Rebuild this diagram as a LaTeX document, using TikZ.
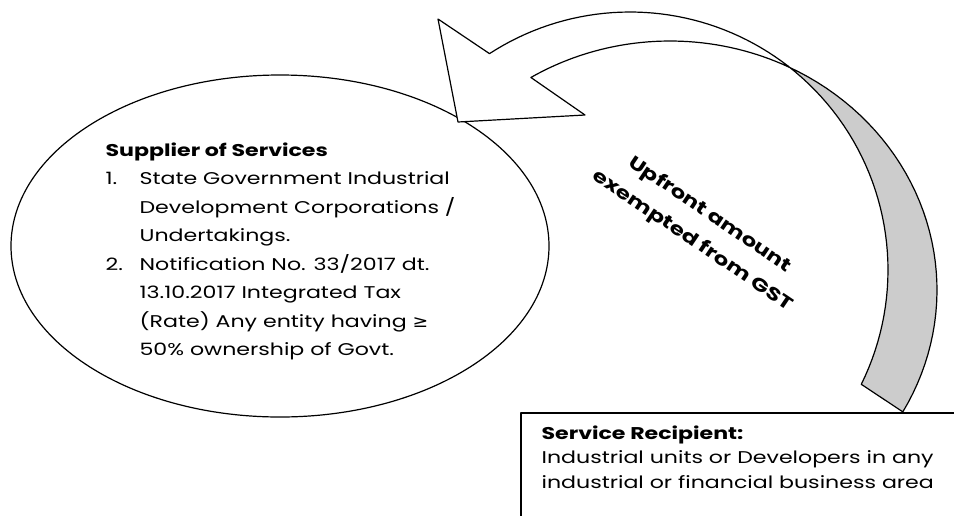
\documentclass[tikz,border=0pt]{standalone}
\usepackage{fontspec}
\setmainfont{Poppins}[FakeStretch=1.3]
\newfontfamily\symfont{DejaVu Sans}[FakeStretch=1.1]
\usetikzlibrary{shapes.geometric}

\tikzset{
  bodytext/.style={anchor=north west, align=left, inner sep=0pt},
  backface/.style={fill=gray!40},
  frontface/.style={fill=white}
}

\begin{document}
\begin{tikzpicture}[x=1pt, y=-1pt, line width=1.2pt, line join=round, variable=\t, samples=40]
    \useasboundingbox (0,0) rectangle (954,515);

    % Elip nha cung cap
    \node[draw, ellipse, minimum width=538, minimum height=342, inner sep=0pt] (supplier) at (280,246) {};
    \begin{scope}
        \clip (0,0) rectangle (954,359);
        \node[bodytext, font=\fontsize{17}{28.5}\selectfont] (suppliertext) at (105,142) {%
            {\bfseries Supplier of Services}\\
            \makebox[34pt][l]{1.}State Government Industrial\\
            \hspace*{34pt}Development Corporations /\\
            \hspace*{34pt}Undertakings.\\
            \makebox[34pt][l]{2.}Notification No. 33/2017 dt.\\
            \hspace*{34pt}13.10.2017 Integrated Tax\\
            \hspace*{34pt}(Rate) Any entity having {\symfont ≥}\\
            \hspace*{34pt}50\% ownership of Govt.};
    \end{scope}

    % Mui ten cong: mat sau mau xam
    \draw[backface] plot[domain=-52.2:26.3] ({630+258*cos(\t)}, {270+258*sin(\t)})
        -- plot[domain=29.3:-63.7] ({670+267*cos(\t)}, {290+249*sin(\t)}) -- cycle;
    % Mat truoc va dau mui ten
    \draw[frontface] (438,19) -- plot[domain=-123:-52.2] ({630+258*cos(\t)}, {270+258*sin(\t)})
        -- plot[domain=-63.7:-121.4] ({670+267*cos(\t)}, {290+249*sin(\t)})
        -- (585,115) -- (458,122) -- cycle;

    % Nhan tren mui ten
    \node[rotate=-34, align=center, font=\bfseries\fontsize{18}{31}\selectfont] (gstlabel) at (701,228) {Upfront amount\\exempted from GST};

    % Hop nguoi nhan dich vu
    \draw (521,413) rectangle (975,530);
    \node[bodytext, font=\fontsize{17}{24.5}\selectfont] (recipient) at (541,425) {%
        {\bfseries Service Recipient:}\\
        Industrial units or Developers in any\\
        industrial or financial business area};
\end{tikzpicture}
\end{document}
